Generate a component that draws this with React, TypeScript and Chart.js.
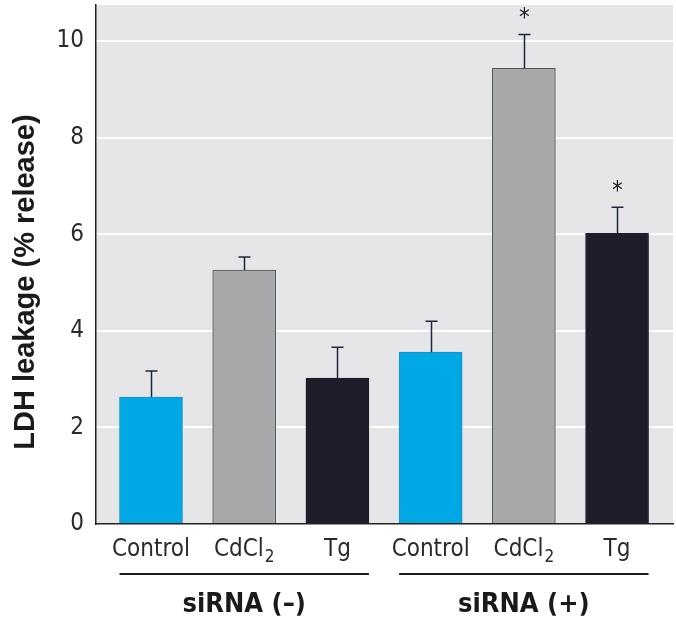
import { useEffect, useRef } from 'react';
import { Chart, registerables } from 'chart.js';

Chart.register(...registerables);

const categories = ['Control', 'CdCl₂', 'Tg', 'Control', 'CdCl₂', 'Tg'];
const means = [2.63, 5.26, 3.02, 3.56, 9.44, 6.02];
const errors = [0.54, 0.27, 0.64, 0.64, 0.7, 0.54];
const significant = [false, false, false, false, true, true];
const groups = ['siRNA (–)', 'siRNA (+)'];
const groupMembers = [[0, 1, 2], [3, 4, 5]];
const yTicks = [0, 2, 4, 6, 8, 10];
const barColors = ['#00a8e6', '#a6a8aa', '#1f1d29', '#00a8e6', '#a6a8aa', '#1f1d29'];
const barBorders = ['#1a8fc4', '#4f5860', '#1f1d29', '#1a8fc4', '#4f5860', '#1f1d29'];

const NARROW = '"Liberation Sans Narrow", "DejaVu Sans Condensed", "Liberation Sans", sans-serif';

const W = 676;
const H = 621;
const BAR_W = 63;

const decorPlugin = {
  id: 'decor',
  beforeDraw(chart: any) {
    const { ctx, chartArea } = chart;
    ctx.save();
    ctx.fillStyle = '#ffffff';
    ctx.fillRect(0, 0, chart.width, chart.height);
    ctx.fillStyle = '#e6e6e8';
    ctx.fillRect(chartArea.left, chartArea.top, chartArea.right - chartArea.left, chartArea.bottom - chartArea.top);
    ctx.restore();
  },
  afterDatasetsDraw(chart: any) {
    const { ctx } = chart;
    const x = chart.scales.x;
    const y = chart.scales.y;
    ctx.save();
    ctx.strokeStyle = '#1c2a38';
    ctx.lineWidth = 1.5;
    means.forEach((m, i) => {
      const cx = Math.round(x.getPixelForValue(i)) + 0.5;
      const y0 = y.getPixelForValue(m);
      const y1 = y.getPixelForValue(m + errors[i]);
      ctx.beginPath();
      ctx.moveTo(cx, y0);
      ctx.lineTo(cx, y1);
      ctx.moveTo(cx - 6, y1);
      ctx.lineTo(cx + 6, y1);
      ctx.stroke();
      if (significant[i]) {
        ctx.fillStyle = '#1c1c24';
        ctx.font = `24px ${NARROW}`;
        ctx.textAlign = 'center';
        ctx.textBaseline = 'middle';
        ctx.fillText('*', cx, y1 - 16);
      }
    });
    ctx.restore();
  },
  afterDraw(chart: any) {
    const { ctx } = chart;
    const x = chart.scales.x;
    ctx.save();
    ctx.fillStyle = '#1a1a1a';
    ctx.font = `bold 29px "Liberation Sans", Arial, sans-serif`;
    ctx.textAlign = 'center';
    ctx.textBaseline = 'middle';
    ctx.translate(26, 282);
    ctx.rotate(-Math.PI / 2);
    ctx.fillText('LDH leakage (% release)', 0, 0);
    ctx.restore();

    ctx.save();
    ctx.fillStyle = '#2a2a2a';
    ctx.textBaseline = 'alphabetic';
    categories.forEach((c, i) => {
      const cx = x.getPixelForValue(i);
      const m = c.match(/^(.*?)([₀-₉])$/);
      const baseY = 556;
      if (m) {
        const base = m[1];
        const sub = String.fromCharCode(m[2].charCodeAt(0) - 0x2080 + 48);
        ctx.font = `24px ${NARROW}`;
        const wb = ctx.measureText(base).width;
        ctx.font = `17px ${NARROW}`;
        const ws = ctx.measureText(sub).width + 1;
        const start = cx - (wb + ws) / 2;
        ctx.textAlign = 'left';
        ctx.font = `24px ${NARROW}`;
        ctx.fillText(base, start, baseY);
        ctx.font = `17px ${NARROW}`;
        ctx.fillText(sub, start + wb + 1, baseY + 6);
      } else {
        ctx.textAlign = 'center';
        ctx.font = `24px ${NARROW}`;
        ctx.fillText(c, cx, baseY);
      }
    });

    groups.forEach((g, gi) => {
      const mem = groupMembers[gi];
      const left = x.getPixelForValue(mem[0]) - BAR_W / 2;
      const right = x.getPixelForValue(mem[mem.length - 1]) + BAR_W / 2;
      ctx.strokeStyle = '#1a1a1a';
      ctx.lineWidth = 2;
      ctx.beginPath();
      ctx.moveTo(left, 574);
      ctx.lineTo(right, 574);
      ctx.stroke();
      ctx.fillStyle = '#1a1a1a';
      ctx.font = `bold 27px ${NARROW}`;
      ctx.textAlign = 'center';
      ctx.textBaseline = 'middle';
      ctx.fillText(g, (left + right) / 2, 605);
    });
    ctx.restore();
  },
};

export default function App() {
  const ref = useRef<HTMLCanvasElement | null>(null);
  useEffect(() => {
    if (!ref.current) return;
    const chart = new Chart(ref.current, {
      type: 'bar',
      data: {
        datasets: [
          {
            data: means.map((v, i) => ({ x: i, y: v })),
            backgroundColor: barColors,
            borderColor: barBorders,
            borderWidth: 1,
            borderSkipped: 'bottom',
            barThickness: BAR_W,
          } as any,
        ],
      },
      options: {
        responsive: false,
        animation: false,
        devicePixelRatio: 1,
        layout: { padding: { top: 5, right: 3, left: 0, bottom: 0 } },
        plugins: { legend: { display: false }, tooltip: { enabled: false } },
        scales: {
          x: {
            type: 'linear',
            offset: false,
            min: -0.59,
            max: 5.6,
            afterBuildTicks: (s: any) => {
              s.ticks = categories.map((_, i) => ({ value: i }));
            },
            afterFit: (s: any) => {
              s.height = H - 524;
              s.paddingLeft = 0;
              s.paddingRight = 0;
            },
            ticks: { display: false },
            grid: { display: false, offset: false },
            border: { display: true, color: '#222', width: 1.5 },
          },
          y: {
            min: 0,
            max: 10.75,
            afterBuildTicks: (s: any) => {
              s.ticks = yTicks.map((v) => ({ value: v }));
            },
            afterFit: (s: any) => {
              s.width = 96;
              s.paddingTop = 0;
              s.paddingBottom = 0;
            },
            ticks: {
              color: '#2a2a2a',
              font: { family: NARROW, size: 24 },
              padding: 12,
            },
            grid: { color: '#ffffff', lineWidth: 2, drawTicks: false },
            border: { display: true, color: '#222', width: 1.5 },
          },
        },
      },
      plugins: [decorPlugin],
    });
    return () => chart.destroy();
  }, []);
  return (
    <div style={{ position: 'fixed', left: 0, top: 0, width: W, height: H, background: '#fff' }}>
      <canvas ref={ref} width={W} height={H} style={{ display: 'block' }} />
    </div>
  );
}
